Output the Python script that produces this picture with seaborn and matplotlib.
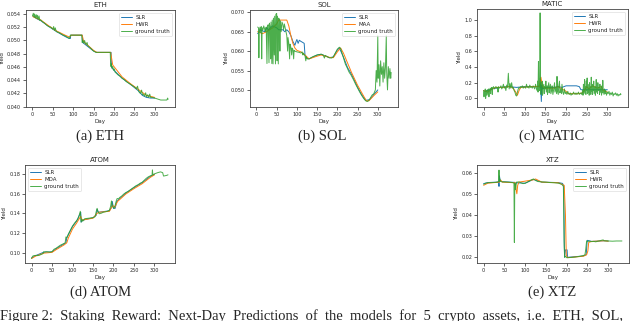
import matplotlib
matplotlib.use("Agg")
import matplotlib.pyplot as plt
import seaborn as sns

# Each series: list of (day, yield) points.
# ---------------- ETH ----------------
eth_gt = [(0, 0.0537), (2, 0.0541), (4, 0.0535), (5, 0.0540), (7, 0.0534), (9, 0.0539), (11, 0.0533),
          (12, 0.0538), (14, 0.0532), (16, 0.0537), (18, 0.0530), (20, 0.0531), (25, 0.0528), (30, 0.0526),
          (35, 0.0523), (40, 0.0521), (45, 0.0520), (50, 0.0517), (52, 0.0521), (54, 0.0515), (56, 0.0519),
          (58, 0.0514), (60, 0.0513), (65, 0.0512), (70, 0.0510), (75, 0.0508), (80, 0.0507), (85, 0.0505),
          (88, 0.0504), (91, 0.0503), (93, 0.0508), (100, 0.0508), (110, 0.0508), (121, 0.0508),
          (122, 0.0497), (124, 0.0500), (126, 0.0496), (128, 0.0500), (130, 0.0495), (132, 0.0494),
          (134, 0.0497), (136, 0.0492), (140, 0.0490), (145, 0.0487), (150, 0.0484), (156, 0.0482),
          (170, 0.0482), (180, 0.0482), (191, 0.0482), (192, 0.0461), (193, 0.0465), (195, 0.0458),
          (197, 0.0461), (199, 0.0455), (201, 0.0457), (203, 0.0452), (205, 0.0451), (210, 0.0448),
          (215, 0.0446), (220, 0.0443), (225, 0.0441), (230, 0.0438), (235, 0.0436), (240, 0.0434),
          (245, 0.0432), (250, 0.0430), (255, 0.0427), (258, 0.0431), (260, 0.0425), (262, 0.0422),
          (265, 0.0420), (268, 0.0425), (270, 0.0418), (272, 0.0419), (275, 0.0416), (278, 0.0421),
          (280, 0.0415), (283, 0.0418), (285, 0.0414), (288, 0.0419), (290, 0.0414), (295, 0.0414),
          (300, 0.0413), (305, 0.0412), (310, 0.0411), (315, 0.0410), (320, 0.0410), (325, 0.0410),
          (330, 0.0410), (332, 0.0413), (333, 0.0411)]
eth_slr = [(1, 0.0537), (10, 0.0533), (20, 0.0530), (40, 0.0521), (60, 0.0513), (80, 0.0506), (90, 0.0503),
           (93, 0.0503), (94, 0.0508), (121, 0.0508), (122, 0.0508), (123, 0.0497), (150, 0.0484),
           (157, 0.0482), (192, 0.0482), (193, 0.0482), (194, 0.0460), (200, 0.0455), (220, 0.0443),
           (240, 0.0434), (260, 0.0424), (270, 0.0417), (280, 0.0414), (290, 0.0413), (300, 0.0413)]
eth_m2 = [(1, 0.0536), (20, 0.0531), (40, 0.0522), (60, 0.0514), (80, 0.0508), (91, 0.0505), (95, 0.0508),
          (122, 0.0508), (126, 0.0498), (150, 0.0485), (158, 0.0482), (192, 0.0482), (197, 0.0463),
          (220, 0.0445), (240, 0.0435), (260, 0.0426), (280, 0.0417), (300, 0.0414)]

# ---------------- SOL ----------------
sol_gt = [(3, 0.0662), (5, 0.0660), (6, 0.0583), (7, 0.0655), (9, 0.0662), (10, 0.0648), (12, 0.0663),
          (13, 0.0580), (14, 0.0660), (16, 0.0655), (18, 0.0665), (20, 0.0658), (22, 0.0650), (24, 0.0662),
          (26, 0.0568), (27, 0.0663), (29, 0.0668), (31, 0.0570), (32, 0.0672), (34, 0.0660), (35, 0.0580),
          (36, 0.0675), (38, 0.0568), (39, 0.0680), (41, 0.0567), (42, 0.0685), (44, 0.0590), (45, 0.0690),
          (47, 0.0567), (48, 0.0695), (50, 0.0697), (51, 0.0575), (52, 0.0690), (54, 0.0567), (55, 0.0685),
          (57, 0.0680), (58, 0.0600), (59, 0.0678), (61, 0.0650), (63, 0.0675), (65, 0.0670), (67, 0.0655),
          (69, 0.0670), (71, 0.0660), (73, 0.0650), (75, 0.0640), (77, 0.0600), (78, 0.0635), (80, 0.0620),
          (82, 0.0580), (83, 0.0618), (85, 0.0610), (87, 0.0590), (88, 0.0608), (90, 0.0605), (92, 0.0580),
          (93, 0.0602), (95, 0.0600), (100, 0.0598), (105, 0.0597), (110, 0.0595), (113, 0.0598),
          (115, 0.0590), (116, 0.0595), (120, 0.0588), (122, 0.0575), (123, 0.0586), (125, 0.0580),
          (130, 0.0580), (135, 0.0583), (140, 0.0586), (145, 0.0588), (150, 0.0590), (155, 0.0591),
          (160, 0.0592), (165, 0.0590), (168, 0.0582), (170, 0.0589), (175, 0.0586), (180, 0.0583),
          (185, 0.0582), (190, 0.0585), (195, 0.0595), (200, 0.0605), (205, 0.0610), (208, 0.0607),
          (210, 0.0600), (213, 0.0590), (215, 0.0582), (218, 0.0572), (220, 0.0566), (223, 0.0560),
          (225, 0.0555), (228, 0.0548), (230, 0.0544), (233, 0.0540), (235, 0.0536), (238, 0.0530),
          (240, 0.0526), (245, 0.0515), (250, 0.0505), (255, 0.0495), (260, 0.0486), (265, 0.0478),
          (270, 0.0472), (274, 0.0470), (278, 0.0473), (282, 0.0480), (286, 0.0487), (290, 0.0490),
          (292, 0.0495), (294, 0.0500), (296, 0.0550), (298, 0.0520), (300, 0.0640), (301, 0.0530),
          (303, 0.0565), (305, 0.0510), (307, 0.0575), (309, 0.0540), (311, 0.0560), (313, 0.0520),
          (315, 0.0570), (317, 0.0530), (319, 0.0560), (321, 0.0640), (322, 0.0545), (324, 0.0500),
          (326, 0.0560), (328, 0.0530), (330, 0.0555), (332, 0.0530), (333, 0.0545)]
sol_slr = [(3, 0.0645), (10, 0.0655), (20, 0.0650), (25, 0.0660), (30, 0.0655), (40, 0.0665), (50, 0.0660),
           (55, 0.0655), (60, 0.0655), (65, 0.0655), (70, 0.0650), (75, 0.0655), (80, 0.0650), (85, 0.0640),
           (90, 0.0625), (95, 0.0615), (98, 0.0625), (100, 0.0630), (103, 0.0620), (106, 0.0628),
           (110, 0.0625), (115, 0.0622), (118, 0.0620), (120, 0.0590), (125, 0.0582), (130, 0.0580),
           (150, 0.0590), (160, 0.0592), (180, 0.0583), (190, 0.0585), (200, 0.0603), (205, 0.0608),
           (215, 0.0585), (225, 0.0558), (235, 0.0540), (240, 0.0530), (250, 0.0507), (260, 0.0488),
           (270, 0.0473), (280, 0.0475), (290, 0.0488), (300, 0.0500)]
sol_m2 = [(3, 0.0650), (15, 0.0645), (25, 0.0650), (40, 0.0660), (50, 0.0670), (55, 0.0680), (75, 0.0680),
          (80, 0.0665), (85, 0.0640), (90, 0.0620), (95, 0.0608), (100, 0.0602), (110, 0.0598), (120, 0.0590),
          (130, 0.0580), (150, 0.0587), (160, 0.0590), (180, 0.0584), (190, 0.0583), (200, 0.0598),
          (208, 0.0608), (215, 0.0595), (225, 0.0570), (235, 0.0545), (250, 0.0512), (265, 0.0484),
          (272, 0.0472), (278, 0.0472), (290, 0.0485), (300, 0.0495)]

# ---------------- MATIC ----------------
matic_gt = [(0, 0.10), (1, 0.02), (2, 0.08), (3, 0.05), (4, 0.12), (5, 0.00), (6, 0.09), (7, 0.10), (8, 0.04),
            (9, 0.11), (10, 0.07), (12, 0.12), (13, 0.02), (14, 0.10), (16, 0.13), (17, 0.06), (18, 0.12),
            (20, 0.14), (21, 0.05), (22, 0.13), (24, 0.15), (26, 0.12), (28, 0.14), (30, 0.15), (32, 0.13),
            (34, 0.14), (35, 0.08), (36, 0.15), (38, 0.13), (40, 0.14), (42, 0.16), (44, 0.12), (46, 0.14),
            (48, 0.18), (50, 0.13), (52, 0.15), (54, 0.10), (56, 0.17), (58, 0.14), (60, 0.32), (62, 0.12),
            (64, 0.19), (66, 0.13), (68, 0.20), (70, 0.13), (72, 0.14), (74, 0.10), (76, 0.08), (78, 0.04),
            (80, 0.03), (82, 0.08), (84, 0.12), (86, 0.14), (88, 0.13), (90, 0.15), (92, 0.14), (94, 0.16),
            (96, 0.13), (98, 0.15), (100, 0.14), (102, 0.13), (104, 0.18), (106, 0.14), (108, 0.15),
            (110, 0.13), (112, 0.17), (114, 0.14), (116, 0.15), (118, 0.13), (120, 0.16), (122, 0.14),
            (124, 0.12), (126, 0.18), (128, 0.13), (130, 0.10), (131, 0.22), (132, 0.08), (133, 0.47),
            (134, 0.12), (135, 0.25), (136, 0.10), (137, 1.09), (138, 0.15), (139, 0.05), (140, 0.20),
            (141, 0.10), (142, 0.22), (143, 0.04), (144, 0.14), (146, 0.18), (147, 0.06), (148, 0.15),
            (150, 0.12), (151, 0.22), (152, 0.08), (154, 0.16), (155, 0.05), (156, 0.14), (158, 0.20),
            (159, 0.07), (160, 0.13), (162, 0.18), (163, 0.06), (165, 0.10), (166, 0.16), (168, 0.05),
            (170, 0.12), (172, 0.20), (173, 0.08), (175, 0.14), (177, 0.06), (178, 0.28), (179, 0.10),
            (181, 0.05), (182, 0.15), (184, 0.22), (185, 0.07), (187, 0.12), (189, 0.06), (190, 0.18),
            (192, 0.08), (194, 0.05), (196, 0.12), (198, 0.06), (200, 0.08), (202, 0.05), (204, 0.09),
            (206, 0.06), (208, 0.05), (210, 0.07), (212, 0.04), (214, 0.06), (216, 0.05), (218, 0.08),
            (220, 0.06), (222, 0.05), (224, 0.07), (226, 0.05), (228, 0.06), (230, 0.08), (232, 0.05),
            (234, 0.06), (236, 0.07), (238, 0.05), (240, 0.10), (241, 0.04), (242, 0.18), (243, 0.06),
            (244, 0.12), (245, 0.24), (246, 0.08), (247, 0.15), (248, 0.05), (249, 0.22), (250, 0.10),
            (251, 0.26), (252, 0.06), (253, 0.18), (254, 0.08), (255, 0.12), (256, 0.04), (257, 0.20),
            (258, 0.07), (259, 0.15), (260, 0.05), (261, 0.27), (262, 0.09), (263, 0.14), (264, 0.05),
            (265, 0.18), (266, 0.10), (267, 0.22), (268, 0.06), (270, 0.15), (271, 0.04), (272, 0.12),
            (273, 0.24), (274, 0.08), (275, 0.16), (276, 0.06), (277, 0.20), (278, 0.10), (280, 0.14),
            (281, 0.05), (282, 0.18), (283, 0.08), (284, 0.12), (286, 0.04), (287, 0.16), (288, 0.07),
            (289, 0.23), (290, 0.09), (292, 0.05), (293, 0.12), (295, 0.06), (296, 0.10), (298, 0.04),
            (300, 0.08), (302, 0.06), (304, 0.09), (306, 0.04), (308, 0.07), (310, 0.05), (312, 0.08),
            (314, 0.03), (316, 0.06), (318, 0.05), (320, 0.07), (322, 0.04), (324, 0.06), (326, 0.03),
            (328, 0.05), (330, 0.04), (332, 0.06), (333, 0.05)]
matic_slr = [(0, 0.10), (5, 0.09), (10, 0.10), (20, 0.12), (30, 0.13), (40, 0.14), (60, 0.15), (80, 0.14),
             (100, 0.15), (120, 0.15), (130, 0.15), (135, 0.16), (137, 0.14), (138, 0.20), (140, -0.04),
             (141, 0.17), (143, 0.12), (150, 0.14), (170, 0.14), (180, 0.15), (190, 0.14), (200, 0.16),
             (210, 0.16), (225, 0.16), (232, 0.15), (236, 0.11), (250, 0.11), (270, 0.11), (290, 0.11),
             (300, 0.11)]
matic_m2 = [(0, 0.10), (10, 0.08), (20, 0.12), (30, 0.14), (50, 0.14), (60, 0.15), (70, 0.14), (78, 0.08),
            (82, 0.04), (86, 0.10), (90, 0.14), (120, 0.15), (135, 0.15), (139, 0.27), (141, 0.20),
            (143, 0.15), (150, 0.13), (170, 0.13), (180, 0.15), (190, 0.12), (200, 0.09), (205, 0.06),
            (230, 0.06), (240, 0.07), (250, 0.15), (255, 0.12), (265, 0.16), (275, 0.13), (285, 0.15),
            (290, 0.10), (300, 0.08)]

# ---------------- ATOM ----------------
atom_gt = [(0, 0.0943), (3, 0.0965), (6, 0.0970), (10, 0.0972), (15, 0.0970), (20, 0.0975), (25, 0.0985),
           (28, 0.0990), (30, 0.1010), (32, 0.1005), (35, 0.1010), (40, 0.1008), (45, 0.1005), (50, 0.1010),
           (55, 0.1035), (60, 0.1045), (65, 0.1060), (70, 0.1075), (75, 0.1085), (80, 0.1095), (82, 0.1100),
           (84, 0.1160), (86, 0.1150), (90, 0.1190), (95, 0.1230), (100, 0.1270), (105, 0.1300),
           (110, 0.1325), (113, 0.1340), (116, 0.1375), (119, 0.1420), (120, 0.1380), (121, 0.1310),
           (123, 0.1340), (125, 0.1320), (130, 0.1345), (140, 0.1350), (150, 0.1355), (155, 0.1365),
           (158, 0.1420), (160, 0.1450), (162, 0.1420), (165, 0.1395), (170, 0.1400), (175, 0.1410),
           (180, 0.1415), (185, 0.1420), (190, 0.1430), (193, 0.1470), (195, 0.1525), (197, 0.1480),
           (199, 0.1460), (201, 0.1450), (204, 0.1480), (207, 0.1530), (209, 0.1550), (212, 0.1545),
           (215, 0.1560), (220, 0.1575), (225, 0.1595), (230, 0.1610), (235, 0.1620), (240, 0.1635),
           (245, 0.1650), (250, 0.1665), (255, 0.1680), (260, 0.1690), (265, 0.1705), (270, 0.1715),
           (275, 0.1735), (280, 0.1755), (285, 0.1770), (290, 0.1780), (294, 0.1785), (295, 0.1840),
           (296, 0.1790), (300, 0.1800), (305, 0.1808), (310, 0.1815), (315, 0.1820), (320, 0.1812),
           (322, 0.1778), (325, 0.1780), (330, 0.1785), (333, 0.1790)]
atom_slr = [(0, 0.0945), (10, 0.0970), (30, 0.1005), (50, 0.1008), (60, 0.1040), (80, 0.1090), (84, 0.1100),
            (86, 0.1150), (100, 0.1265), (110, 0.1320), (119, 0.1400), (120, 0.1410), (121, 0.1310),
            (125, 0.1330), (150, 0.1355), (158, 0.1380), (160, 0.1440), (163, 0.1410), (190, 0.1425),
            (195, 0.1460), (197, 0.1520), (200, 0.1450), (204, 0.1450), (208, 0.1520), (230, 0.1605),
            (250, 0.1660), (270, 0.1710), (290, 0.1775), (300, 0.1795)]
atom_m2 = [(0, 0.0940), (10, 0.0965), (30, 0.0995), (50, 0.1003), (60, 0.1030), (80, 0.1080), (86, 0.1100),
           (90, 0.1150), (100, 0.1240), (110, 0.1300), (120, 0.1370), (123, 0.1330), (150, 0.1350),
           (160, 0.1400), (165, 0.1410), (190, 0.1420), (198, 0.1480), (203, 0.1460), (210, 0.1520),
           (230, 0.1595), (250, 0.1650), (270, 0.1700), (290, 0.1765), (300, 0.1790)]

# ---------------- XTZ ----------------
xtz_gt = [(0, 0.0545), (5, 0.0550), (10, 0.0552), (20, 0.0553), (30, 0.0554), (35, 0.0556), (36, 0.0560),
          (37, 0.0612), (38, 0.0558), (39, 0.0570), (41, 0.0558), (45, 0.0556), (50, 0.0556), (60, 0.0555),
          (70, 0.0553), (73, 0.0550), (74, 0.0270), (75, 0.0550), (77, 0.0520), (79, 0.0555), (85, 0.0556),
          (90, 0.0552), (95, 0.0548), (100, 0.0550), (105, 0.0555), (110, 0.0560), (115, 0.0566),
          (120, 0.0570), (125, 0.0563), (130, 0.0558), (140, 0.0556), (150, 0.0555), (160, 0.0553),
          (170, 0.0552), (180, 0.0550), (188, 0.0545), (192, 0.0535), (193, 0.0400), (194, 0.0250),
          (195, 0.0200), (197, 0.0205), (200, 0.0198), (210, 0.0199), (220, 0.0201), (230, 0.0204),
          (240, 0.0208), (244, 0.0212), (246, 0.0240), (248, 0.0278), (250, 0.0275), (255, 0.0276),
          (260, 0.0274), (265, 0.0275), (270, 0.0273), (275, 0.0276), (280, 0.0278), (285, 0.0281),
          (288, 0.0282), (290, 0.0278), (300, 0.0277), (310, 0.0276), (320, 0.0277), (333, 0.0277)]
xtz_slr = [(0, 0.0548), (10, 0.0553), (30, 0.0555), (36, 0.0556), (37, 0.0535), (38, 0.0585), (40, 0.0560),
           (45, 0.0557), (73, 0.0554), (75, 0.0554), (76, 0.0540), (78, 0.0552), (100, 0.0550), (120, 0.0568),
           (140, 0.0555), (180, 0.0553), (190, 0.0549), (193, 0.0535), (194, 0.0280), (195, 0.0200),
           (197, 0.0235), (201, 0.0235), (202, 0.0200), (240, 0.0206), (247, 0.0212), (249, 0.0270),
           (250, 0.0280), (260, 0.0275), (290, 0.0278), (300, 0.0277)]
xtz_m2 = [(0, 0.0540), (10, 0.0550), (38, 0.0555), (41, 0.0565), (45, 0.0555), (76, 0.0552), (78, 0.0520),
          (80, 0.0500), (82, 0.0540), (85, 0.0555), (120, 0.0566), (125, 0.0570), (140, 0.0555),
          (180, 0.0552), (194, 0.0540), (197, 0.0400), (199, 0.0210), (202, 0.0198), (240, 0.0205),
          (248, 0.0212), (251, 0.0230), (253, 0.0270), (260, 0.0275), (290, 0.0278), (300, 0.0276)]

titles = ["ETH", "SOL", "MATIC", "ATOM", "XTZ"]
captions = ["(a) ETH", "(b) SOL", "(c) MATIC", "(d) ATOM", "(e) XTZ"]
second_labels = ["HWR", "MAA", "HWR", "MDA", "HWR"]
legend_locs = ["upper right", "upper right", "upper right", "upper left", "upper right"]
x_ticks = [0, 50, 100, 150, 200, 250, 300]

panels = [
    (eth_gt, eth_slr, eth_m2),
    (sol_gt, sol_slr, sol_m2),
    (matic_gt, matic_slr, matic_m2),
    (atom_gt, atom_slr, atom_m2),
    (xtz_gt, xtz_slr, xtz_m2),
]

# layout (figure fractions) and view limits
rects = [
    (0.0406, 0.6667, 0.2328, 0.3022),
    (0.3906, 0.6667, 0.2313, 0.3022),
    (0.7453, 0.6667, 0.2359, 0.3053),
    (0.0390, 0.1807, 0.2344, 0.3053),
    (0.7453, 0.1807, 0.2375, 0.3053),
]
ylims = [(0.03995, 0.0546), (0.0456, 0.0706), (-0.11, 1.14), (0.0895, 0.189), (0.0173, 0.0636)]
cap_pos = [(0.157, 0.574), (0.503, 0.574), (0.862, 0.574), (0.157, 0.090), (0.862, 0.090)]

sns.set_style("ticks")
plt.rcParams["font.family"] = ["DejaVu Sans"]

fig = plt.figure(figsize=(6.4, 3.21), dpi=100)


def xy(series):
    return [p[0] for p in series], [p[1] for p in series]


for i, (gt, slr, m2) in enumerate(panels):
    ax = fig.add_axes(rects[i])
    sx, sy = xy(slr)
    mx, my = xy(m2)
    gx, gy = xy(gt)
    sns.lineplot(x=sx, y=sy, ax=ax, color="#1f77b4", lw=0.7, label="SLR", estimator=None)
    sns.lineplot(x=mx, y=my, ax=ax, color="#ff7f0e", lw=0.7, label=second_labels[i], estimator=None)
    sns.lineplot(x=gx, y=gy, ax=ax, color="#2ca02c", lw=0.7, alpha=0.85, label="ground truth",
                 estimator=None)
    ax.set_xlim(-16, 350)
    ax.set_ylim(*ylims[i])
    ax.set_xticks(x_ticks)
    ax.set_title(titles[i], fontsize=5, pad=2)
    ax.set_xlabel("Day", fontsize=4, labelpad=1.5)
    ax.set_ylabel("Yield", fontsize=4, labelpad=1.5)
    ax.tick_params(labelsize=3.5, length=2, width=0.5, pad=1.5)
    for s in ax.spines.values():
        s.set_linewidth(0.6)
        s.set_color("#444444")
    leg = ax.legend(loc=legend_locs[i], fontsize=4, frameon=True, borderpad=0.4,
                    handlelength=2.0, labelspacing=0.35, handletextpad=0.6)
    leg.get_frame().set_linewidth(0.4)
    fig.text(cap_pos[i][0], cap_pos[i][1], captions[i], ha="center", va="center",
             fontsize=10.5, family="Liberation Serif")

fig.text(0.0, 0.014, "Figure 2:  Staking  Reward:  Next-Day  Predictions  of  the  models  for  5  crypto  assets,  i.e.  ETH,  SOL,",
         ha="left", va="center", fontsize=10.5, family="Liberation Serif")

fig.savefig("out.png", dpi=100)
